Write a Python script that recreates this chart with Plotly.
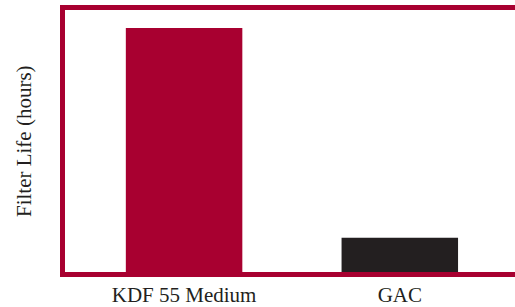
import plotly.graph_objects as go

categories = ["KDF 55 Medium", "GAC"]
filter_life_hours = [1000, 140]
bar_colors = ["#A80030", "#231F20"]

RED = "#A80030"
FONT = "Liberation Serif"

fig = go.Figure(
    go.Bar(
        x=categories,
        y=filter_life_hours,
        marker=dict(color=bar_colors, line=dict(width=0)),
        width=0.54,
        hoverinfo="skip",
    )
)

fig.update_layout(
    width=515,
    height=307,
    margin=dict(l=65, r=0, t=10, b=35),
    paper_bgcolor="white",
    plot_bgcolor="white",
    showlegend=False,
    font=dict(family=FONT, size=21, color="#231F20"),
    annotations=[
        dict(
            text="Filter Life (hours)",
            xref="paper", yref="paper",
            x=-0.091, y=0.5,
            xanchor="center", yanchor="middle",
            textangle=-90,
            showarrow=False,
            font=dict(family=FONT, size=21, color="#231F20"),
        )
    ],
)

fig.update_xaxes(
    range=[-0.552, 1.534],
    showline=True, linecolor=RED, linewidth=5, mirror=True,
    showgrid=False, zeroline=False, ticks="",
    tickfont=dict(family=FONT, size=21, color="#231F20"),
)
fig.update_yaxes(
    range=[0, 1074],
    showline=True, linecolor=RED, linewidth=5, mirror=False,
    showgrid=False, zeroline=False, ticks="", showticklabels=False,
)

fig.write_html(
    "out.html",
    config={"displayModeBar": False},
    post_script="document.body.style.margin='0';document.body.style.overflow='hidden';",
)
